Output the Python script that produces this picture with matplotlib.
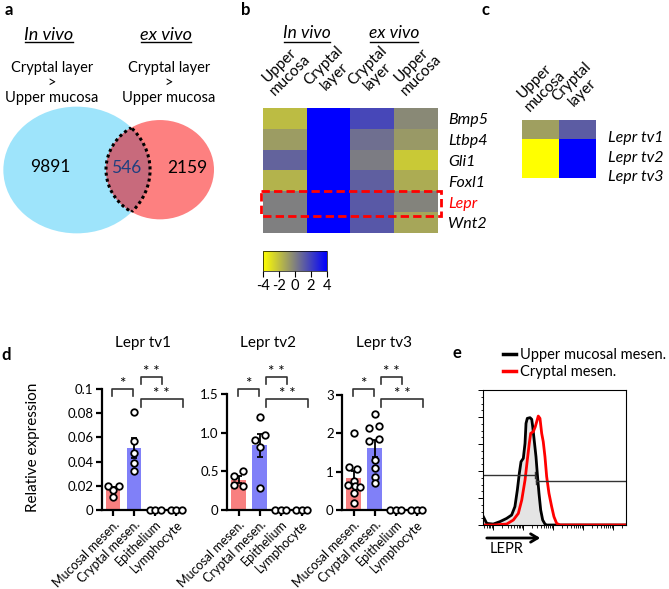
import numpy as np
import matplotlib
matplotlib.use('Agg')
import matplotlib.pyplot as plt
from matplotlib.patches import Ellipse, Rectangle
from matplotlib.lines import Line2D
from matplotlib.colors import LinearSegmentedColormap
from matplotlib.transforms import ScaledTranslation

plt.rcParams['font.family'] = ['Lato', 'DejaVu Sans']
plt.rcParams['axes.unicode_minus'] = False

# ---- a: venn ----
venn_counts = [9891, 546, 2159]   # in vivo only, both, ex vivo only
venn_sets = ['In vivo', 'ex vivo']

# ---- b: heatmap (rows = genes) ----
genes_b = ['Bmp5', 'Ltbp4', 'Gli1', 'Foxl1', 'Lepr', 'Wnt2']
cols_b = ['Upper\nmucosa', 'Cryptal\nlayer', 'Cryptal\nlayer', 'Upper\nmucosa']
vals_b = [[-1.9, 4.0, 1.75, -0.3],
          [-0.9, 4.0, 0.5, -0.8],
          [0.9, 4.0, 0.1, -2.3],
          [-1.6, 4.0, 1.0, -1.4],
          [0.0, 4.0, 1.2, -0.1],
          [0.0, 4.0, 1.25, -1.2]]

# ---- c ----
rows_c = ['Lepr tv1', 'Lepr tv2', 'Lepr tv3']
cols_c = ['Upper\nmucosa', 'Cryptal\nlayer']
vals_c = [[-1.0, 1.1], [-4.0, 4.0], [-4.0, 4.0]]

# ---- d: qPCR ----
groups = ['Mucosal mesen.', 'Cryptal mesen.', 'Epithelium', 'Lymphocyte']
tv1_muc = [0.020, 0.0195, 0.0165, 0.011]
tv1_cry = [0.081, 0.057, 0.047, 0.039, 0.032]
tv2_muc = [0.50, 0.44, 0.32, 0.31]
tv2_cry = [1.20, 0.97, 0.91, 0.81, 0.29]
tv3_muc = [2.02, 1.13, 1.08, 0.75, 0.65, 0.62, 0.60, 0.45, 0.18]
tv3_cry = [2.50, 2.19, 2.15, 1.85, 1.80, 1.30, 1.09, 0.87, 0.70]
zeros3 = [0.0, 0.0, 0.0]
# horizontal spread of the dots
tv1_muc_dx = [-0.25, 0.25, 0.0, 0.0]
tv1_cry_dx = [0.0, 0.0, 0.0, 0.0, 0.0]
tv2_muc_dx = [0.2, -0.2, -0.2, 0.2]
tv2_cry_dx = [0.0, 0.25, -0.2, 0.0, 0.0]
tv3_muc_dx = [0.0, -0.2, 0.15, 0.0, -0.25, 0.05, 0.3, 0.0, 0.0]
tv3_cry_dx = [0.0, 0.2, -0.25, 0.2, -0.25, 0.0, 0.0, 0.0, 0.0]
zeros3_dx = [-0.25, 0.0, 0.25]
brackets = [(-0.05, 0.95, 1.0, '*'), (1.3, 2.3, 1.10, '* *'), (1.3, 3.3, 0.915, '* *')]

# ---- e: flow histogram (x = display position, y = % max) ----
upper_x = [0.0, 0.024, 0.070, 0.117, 0.164, 0.199, 0.222, 0.239, 0.253, 0.265, 0.281, 0.293,
           0.300, 0.309, 0.328, 0.340, 0.347, 0.356, 0.370, 0.379, 0.391, 0.403, 0.417, 0.433, 0.445, 1.0]
upper_y = [6.2, 1.2, 0.7, 2.5, 4.9, 7.4, 13.6, 25.9, 38.3, 46.9, 49.4, 60.5,
           75.3, 79.0, 79.5, 78.3, 72.8, 64.2, 50.6, 38.3, 23.5, 11.1, 3.7, 0.7, 0.0, 0.0]
crypt_x = [0.0, 0.070, 0.164, 0.211, 0.246, 0.270, 0.293, 0.309, 0.323, 0.333, 0.351, 0.365,
           0.375, 0.386, 0.398, 0.410, 0.421, 0.433, 0.445, 0.461, 0.480, 0.496, 0.515, 0.539, 1.0]
crypt_y = [0.0, 0.0, 0.7, 3.7, 8.6, 18.5, 33.3, 48.1, 60.5, 67.9, 69.1, 72.8,
           76.5, 80.7, 79.0, 67.9, 61.7, 50.6, 35.8, 23.5, 13.6, 6.2, 1.2, 0.0, 0.0]
gate_neg = (0.0, 0.363, 37.0)
gate_pos = (0.370, 1.0, 32.6)

W, H = 669, 589
fig = plt.figure(figsize=(W / 100, H / 100), dpi=100)


def px_axes(x0, y0, x1, y1):
    return fig.add_axes([x0 / W, 1 - y1 / H, (x1 - x0) / W, (y1 - y0) / H])


def shift_labels(labels, offsets_px):
    for lbl, off in zip(labels, offsets_px):
        lbl.set_transform(lbl.get_transform() + ScaledTranslation(off / 100, 0, fig.dpi_scale_trans))


ov = fig.add_axes([0, 0, 1, 1])
ov.set_xlim(0, W)
ov.set_ylim(H, 0)
ov.axis('off')

for lab, x, y in [('a', 9, 10), ('b', 246, 10), ('c', 485, 10), ('d', 6, 355), ('e', 457, 353)]:
    ov.text(x, y, lab, fontsize=12, fontweight='bold', ha='center', va='center')

underlined = []

# ---------- a ----------
blue = Ellipse((76.7, 170), 146.7, 126.7, fc='#9ee4fb', ec='none')
red = Ellipse((160, 169.7), 108, 99.3, fc='#fd8080', ec='none')
ov.add_patch(blue)
ov.add_patch(red)
lens = Ellipse((160, 169.7), 108, 99.3, fc='#c86a7c', ec='none')
ov.add_patch(lens)
lens.set_clip_path(blue)
d1 = Ellipse((160, 169.7), 108, 99.3, fc='none', ec='black', lw=2.2, ls=(0, (1, 1)))
d2 = Ellipse((76.7, 170), 146.7, 126.7, fc='none', ec='black', lw=2.2, ls=(0, (1, 1)))
ov.add_patch(d1)
ov.add_patch(d2)
d1.set_clip_path(blue)
d2.set_clip_path(red)
ov.text(50, 167, str(venn_counts[0]), fontsize=12.5, ha='center', va='center')
ov.text(126, 168, str(venn_counts[1]), fontsize=12.5, ha='center', va='center', color='#1f3f7f')
ov.text(187, 168, str(venn_counts[2]), fontsize=12.5, ha='center', va='center')
for name, x in zip(venn_sets, [49, 166]):
    underlined.append(ov.text(x, 35, name, fontsize=13, style='italic', ha='center', va='center'))
    ov.text(x + 3, 83, 'Cryptal layer\n>\nUpper mucosa', fontsize=10.5, ha='center', va='center',
            linespacing=1.1)

# ---------- b ----------
cmap = LinearSegmentedColormap.from_list('yb', ['#ffff00', '#808080', '#0000ff'])
for name, x in zip(venn_sets, [307, 394]):
    underlined.append(ov.text(x, 33, name, fontsize=12.5, style='italic', ha='center', va='center'))

axb = px_axes(263.3, 108.3, 438.3, 233.3)
im = axb.imshow(vals_b, cmap=cmap, vmin=-4, vmax=4, aspect='auto')
axb.xaxis.tick_top()
axb.set_xticks(range(len(cols_b)))
axb.set_xticklabels(cols_b, rotation=45, ha='center', va='bottom', multialignment='center',
                    fontsize=11, linespacing=1.05)
shift_labels(axb.get_xticklabels(), [-6, 0, 5, 14])
axb.yaxis.tick_right()
axb.set_yticks(range(len(genes_b)))
axb.set_yticklabels(genes_b, fontsize=11.5, style='italic')
axb.get_yticklabels()[genes_b.index('Lepr')].set_color('red')
axb.tick_params(length=0, pad=7)
for s in axb.spines.values():
    s.set_visible(False)
axb.add_patch(Rectangle((-0.553, 3.47), 4.115, 1.2, fill=False, ec='red', lw=2,
                        ls=(0, (3, 1.5)), clip_on=False))

cax = px_axes(263, 251, 327, 271)
cb = fig.colorbar(im, cax=cax, orientation='horizontal', ticks=[-4, -2, 0, 2, 4])
cb.outline.set_linewidth(0.5)
cax.tick_params(labelsize=10.5, length=4, width=0.8, pad=2)

# ---------- c ----------
axc = px_axes(521.7, 120, 595.7, 178.3)
axc.imshow(vals_c, cmap=cmap, vmin=-4, vmax=4, aspect='auto')
axc.xaxis.tick_top()
axc.set_xticks(range(len(cols_c)))
axc.set_xticklabels(cols_c, rotation=45, ha='center', va='bottom', multialignment='center',
                    fontsize=11, linespacing=1.05)
shift_labels(axc.get_xticklabels(), [-5, 12])
axc.set_yticks([])
axc.tick_params(length=0, pad=4)
for s in axc.spines.values():
    s.set_visible(False)
for i, name in enumerate(rows_c):
    axc.text(1.83, i + 0.43, name, fontsize=11.5, style='italic', va='center', ha='left', clip_on=False)

# ---------- d ----------
bar_colors = ['#f88080', '#8080f8', 'white', 'white']


def bar_panel(ax, pts, dxs, top, ticks, ticklabels, title):
    for i, (p, dx) in enumerate(zip(pts, dxs)):
        p = np.array(p)
        m = p.mean()
        ax.bar(i, m, width=0.68, color=bar_colors[i], zorder=1)
        if m > 0:
            sem = p.std(ddof=1) / np.sqrt(len(p))
            ax.errorbar(i, m, yerr=sem, color='black', lw=1.3, capsize=2.5, capthick=1.3, zorder=2)
        ax.scatter(i + np.array(dx), p, s=22, facecolor='white', edgecolor='black', lw=1.3,
                   zorder=4, clip_on=False)
    ax.set_xlim(-0.55, 3.4)
    ax.set_ylim(0, top)
    ax.set_yticks(ticks)
    ax.set_yticklabels(ticklabels, fontsize=9.5)
    ax.set_xticks(range(len(groups)))
    ax.set_xticklabels(groups, rotation=45, ha='right', rotation_mode='anchor', fontsize=9)
    ax.spines['left'].set_bounds(0, ticks[-1])
    for s in ['top', 'right']:
        ax.spines[s].set_visible(False)
    for s in ['left', 'bottom']:
        ax.spines[s].set_linewidth(1.6)
    ax.tick_params(width=1.6, length=4, pad=2)
    tr = ax.get_xaxis_transform()
    for x1, x2, y, lab in brackets:
        ax.plot([x1, x1, x2, x2], [y - 0.06, y, y, y - 0.06], color='#333333', lw=1.2,
                transform=tr, clip_on=False)
        ax.text((x1 + x2) / 2, y + 0.01, lab, transform=tr, ha='center', va='baseline',
                fontsize=11)
    ax.text(0.5, 1 + 46 / 121, title, transform=ax.transAxes, ha='center', va='center', fontsize=11)


ax1 = px_axes(101.7, 389, 184.7, 510)
bar_panel(ax1, [tv1_muc, tv1_cry, zeros3, zeros3], [tv1_muc_dx, tv1_cry_dx, zeros3_dx, zeros3_dx],
          0.1, [0, 0.02, 0.04, 0.06, 0.08, 0.1], ['0', '0.02', '0.04', '0.06', '0.08', '0.1'], 'Lepr tv1')
ov.text(33, 447, 'Relative expression', fontsize=11, rotation=90, ha='center', va='center')
ax2 = px_axes(227, 389, 310, 510)
bar_panel(ax2, [tv2_muc, tv2_cry, zeros3, zeros3], [tv2_muc_dx, tv2_cry_dx, zeros3_dx, zeros3_dx],
          1.5 * 121 / 116, [0, 0.5, 1.0, 1.5], ['0', '0.5', '1.0', '1.5'], 'Lepr tv2')
ax3 = px_axes(342, 389, 425, 510)
bar_panel(ax3, [tv3_muc, tv3_cry, zeros3, zeros3], [tv3_muc_dx, tv3_cry_dx, zeros3_dx, zeros3_dx],
          3 * 121 / 115, [0, 1, 2, 3], ['0', '1', '2', '3'], 'Lepr tv3')

# ---------- e ----------
axe = px_axes(483.3, 390, 625.7, 525)
axe.fill_between(upper_x, upper_y, color='#e4e4e4', lw=0)
axe.plot(upper_x, upper_y, color='black', lw=2)
axe.plot(crypt_x, crypt_y, color='#ff0000', lw=2)
for x0, x1, y in [gate_neg, gate_pos]:
    axe.plot([x0, x1], [y, y], color='#333333', lw=1)
gx = gate_neg[1]
axe.plot([gx, gx], [gate_neg[2] - 2.5, gate_neg[2] + 2.5], color='#333333', lw=1)
gx = gate_pos[0]
axe.plot([gx, gx], [gate_pos[2] - 2.5, gate_pos[2] + 2.5], color='#333333', lw=1)
axe.set_xlim(0, 1)
axe.set_ylim(0, 100)
major = [0.07 + 0.21 * k for k in range(5)]
minor = [0.07 + 0.21 * (k + np.log10(m)) for k in range(-1, 5) for m in range(2, 10)]
axe.set_xticks(major)
axe.set_xticks([v for v in minor if 0 <= v <= 1], minor=True)
axe.set_yticks(range(0, 101, 20))
axe.set_yticks(range(0, 101, 5), minor=True)
axe.tick_params(which='major', length=3.5, width=0.7, labelbottom=False, labelleft=False)
axe.tick_params(which='minor', length=1.8, width=0.6)
for s in axe.spines.values():
    s.set_linewidth(0.8)
handles = [Line2D([], [], color='black', lw=2.5), Line2D([], [], color='red', lw=2.5)]
axe.legend(handles, ['Upper mucosal mesen.', 'Cryptal mesen.'], loc='lower left',
           bbox_to_anchor=(503 / W, 1 - 379 / H), bbox_transform=fig.transFigure, frameon=False,
           fontsize=10.5, handlelength=0.9, handletextpad=0.3, borderpad=0, borderaxespad=0,
           labelspacing=0.2)
ov.annotate('', xy=(543, 538), xytext=(484, 538),
            arrowprops=dict(arrowstyle='->,head_length=0.5,head_width=0.3', lw=2, color='black'))
ov.text(507, 549, 'LEPR', fontsize=10.5, ha='center', va='center')

# underline the italic headers
fig.canvas.draw()
rend = fig.canvas.get_renderer()
for t in underlined:
    bb = t.get_window_extent(rend)
    ov.plot([bb.x0 + 1, bb.x1 - 1], [42, 42], color='black', lw=1)

fig.savefig('out.png', dpi=100)
